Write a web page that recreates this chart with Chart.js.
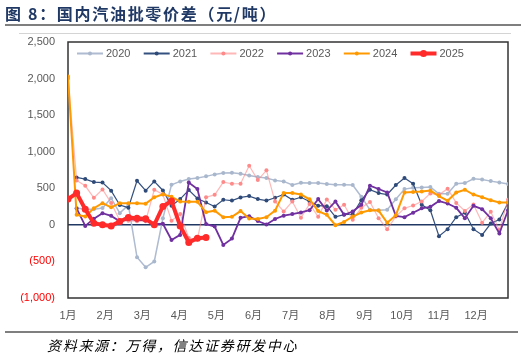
<!DOCTYPE html>
<html><head><meta charset="utf-8">
<script src="https://cdn.jsdelivr.net/npm/chart.js@4/dist/chart.umd.min.js"></script>
<style>
html,body{margin:0;padding:0;background:#fff;}
body{width:529px;height:357px;position:relative;overflow:hidden;font-family:"Liberation Sans","Noto Sans CJK SC",sans-serif;}
#wrap{position:absolute;left:0;top:0;width:529px;height:357px;}
#title{position:absolute;left:5px;top:3px;font-size:16px;font-weight:bold;color:#1F3864;font-family:"Noto Sans CJK SC",sans-serif;white-space:nowrap;line-height:20px;letter-spacing:1.7px;}
#rule1{position:absolute;left:5px;top:24px;width:516px;height:2px;background:#7F7F7F;}
#rule0{position:absolute;left:19px;top:33px;width:492px;height:1px;background:#D4D4D4;}
#rule2{position:absolute;left:5px;top:331px;width:513px;height:2px;background:#7F7F7F;}
#src{position:absolute;left:47px;top:335px;font-size:14px;font-style:italic;color:#000;font-family:"Noto Sans CJK SC",sans-serif;white-space:nowrap;line-height:20px;letter-spacing:1.7px;}
</style></head>
<body>
<div id="wrap"><canvas id="c" width="529" height="357"></canvas></div>
<div id="title">图 8：国内汽油批零价差（元/吨）</div>
<div id="rule1"></div>
<div id="rule0"></div>
<div id="rule2"></div>
<div id="src">资料来源：万得，信达证券研发中心</div>
<script>
// ---- data (weekly, week 0..51) ----
const seriesNames = ['2020','2021','2022','2023','2024','2025'];
const monthLabels = ['1月','2月','3月','4月','5月','6月','7月','8月','9月','10月','11月','12月'];
const monthTickWeeks = [0,4.3,8.6,12.9,17.2,21.5,25.8,30.1,34.4,38.7,43,47.3];
const yTicks = [-1000,-500,0,500,1000,1500,2000,2500];

const s2020 = [null,230,215,215,230,365,160,270,-443,-580,-500,90,548,594,626,640,663,690,710,712,700,675,655,640,608,594,545,575,571,571,557,550,548,545,385,205,200,206,350,489,508,512,516,425,425,562,571,630,620,598,578,560];
const s2021 = [null,648,626,585,578,468,270,235,603,468,594,470,260,352,475,360,306,251,343,332,375,393,352,332,370,415,343,377,320,262,255,110,140,145,338,480,434,415,545,640,562,274,200,-155,-59,105,165,-59,-137,18,72,300];
const s2022 = [2000,608,534,370,485,300,60,55,50,50,480,415,55,150,-180,-200,377,410,585,562,562,809,612,745,320,183,320,98,285,110,348,206,274,69,235,313,91,-59,114,228,265,320,430,411,494,300,190,280,30,178,-72,343];
const s2023 = [null,225,-14,85,160,123,50,80,70,60,10,15,-206,-137,578,489,12,-23,-274,-188,96,118,52,5,80,125,148,170,200,352,195,320,137,183,274,535,490,443,123,105,165,226,246,325,292,233,91,260,215,91,-118,200];
const s2024 = [2030,137,114,228,297,240,297,297,297,290,377,418,383,320,315,315,172,194,105,110,188,86,80,105,194,434,434,415,350,188,137,-5,40,114,169,200,195,28,132,443,448,455,468,393,330,443,480,415,379,336,306,306];
const s2025 = [352,434,215,23,0,-14,46,100,91,82,0,251,325,-14,-240,-183,-174];

const allSeries = [s2020,s2021,s2022,s2023,s2024,s2025];
const lineColors = ['#AEBBD0','#34507F','rgba(255,125,125,0.55)','#7030A0','#FF9900','#FF2B2B'];
const pointColors = ['#A9B7CD','#2E4A78','#FF8A8A','#7030A0','#FF9900','#FF2B2B'];
const lineWidths = [1.5,1.2,1.2,1.8,2,4];
const pointRadii = [2,2,2,2,2,3.5];

const datasets = allSeries.map((arr,i)=>({
  label: seriesNames[i],
  data: arr.map((v,k)=>({x:k,y:v})),
  borderColor: lineColors[i],
  backgroundColor: pointColors[i],
  pointBackgroundColor: pointColors[i],
  pointBorderWidth: 0,
  pointRadius: pointRadii[i],
  borderWidth: lineWidths[i],
  tension: 0,
  spanGaps: false,
  order: 6 - i
}));

const fmt = v => {
  const a = Math.abs(v).toLocaleString('en-US');
  return v < 0 ? '(' + a + ')' : a;
};

const framePlugin = {
  id:'frame',
  beforeDatasetsDraw(chart){
    const {ctx, chartArea:a} = chart;
    ctx.save();
    ctx.strokeStyle = '#333333';
    ctx.lineWidth = 1.5;
    ctx.strokeRect(a.left, a.top, a.right - a.left, a.bottom - a.top);
    ctx.restore();
  }
};

const legendPlugin = {
  id:'customLegend',
  afterDraw(chart){
    const ctx = chart.ctx;
    const y = 53.5;
    ctx.save();
    chart.data.datasets.forEach((ds,i)=>{
      const x0 = 77 + i*66.7;
      ctx.strokeStyle = ds.borderColor;
      ctx.lineWidth = i === 5 ? 4 : 2;
      ctx.beginPath(); ctx.moveTo(x0, y); ctx.lineTo(x0+26, y); ctx.stroke();
      ctx.fillStyle = ds.pointBackgroundColor;
      ctx.beginPath(); ctx.arc(x0+13, y, i===5 ? 3.5 : 2, 0, Math.PI*2); ctx.fill();
      ctx.fillStyle = '#595959';
      ctx.font = '11px "Liberation Sans", sans-serif';
      ctx.textBaseline = 'middle';
      ctx.textAlign = 'left';
      ctx.fillText(ds.label, x0 + 29, y + 0.5);
    });
    ctx.restore();
  }
};

new Chart(document.getElementById('c'), {
  type:'line',
  data:{datasets},
  options:{
    responsive:false,
    animation:false,
    layout:{padding:{top:42,right:21,left:0,bottom:0}},
    plugins:{legend:{display:false},tooltip:{enabled:false}},
    scales:{
      x:{
        type:'linear', min:0, max:51,
        afterFit(s){ s.height = 59; },
        afterBuildTicks(axis){ axis.ticks = monthTickWeeks.map(v=>({value:v})); },
        grid:{display:false, drawTicks:false},
        border:{display:false},
        ticks:{
          autoSkip:false, maxRotation:0, padding:11,
          color:'#595959', font:{size:11, family:'"Liberation Sans","Noto Sans CJK SC",sans-serif'},
          callback:(v,i)=>monthLabels[i]
        }
      },
      y:{
        min:-1000, max:2500,
        afterFit(s){ s.width = 68; },
        afterBuildTicks(axis){ axis.ticks = yTicks.map(v=>({value:v})); },
        grid:{
          drawTicks:false,
          color: c => c.tick && c.tick.value === 0 ? '#1F3864' : 'rgba(0,0,0,0)',
          lineWidth: c => c.tick && c.tick.value === 0 ? 1.5 : 0
        },
        border:{display:false},
        ticks:{
          padding:13,
          color: c => c.tick && c.tick.value < 0 ? '#FF0000' : '#595959',
          font:{size:11, family:'"Liberation Sans",sans-serif'},
          callback: v => fmt(v)
        }
      }
    }
  },
  plugins:[framePlugin, legendPlugin]
});
</script>
</body></html>
